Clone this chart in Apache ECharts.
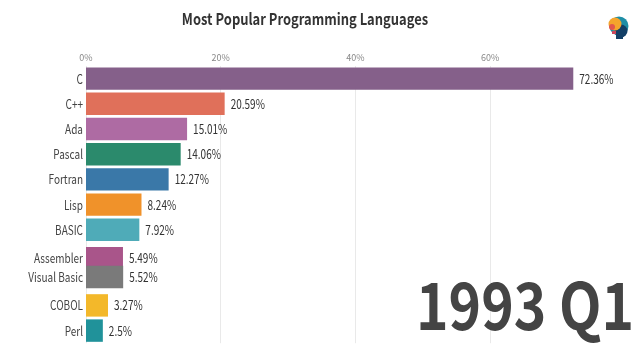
<!DOCTYPE html>
<html>
<head>
<meta charset="utf-8">
<style>html,body{margin:0;padding:0;background:#fff}#c{width:640px;height:360px}</style>
<script src="https://cdn.jsdelivr.net/npm/echarts@6/dist/echarts.min.js"></script>
</head>
<body>
<div id="c"></div>
<script>
const languages = ['C','C++','Ada','Pascal','Fortran','Lisp','BASIC','Assembler','Visual Basic','COBOL','Perl'];
const shares = [72.36,20.59,15.01,14.06,12.27,8.24,7.92,5.49,5.52,3.27,2.5];
const ranks = [1,2,3,4,5,6,7,8.13,8.87,10,11];
const colors = ['#85608a','#e0705a','#ae6ba3','#2b8a6c','#3a78a8','#f0922a','#4fabb8','#a9558a','#7a7a7a','#f3b82a','#20929a'];
const tickValues = [0,20,40,60];
const titleText = 'Most Popular Programming Languages';
const periodText = '1993 Q1';
const FONT = '"Noto Sans CJK SC","Noto Sans",sans-serif';

const chart = echarts.init(document.getElementById('c'), null, {renderer:'canvas'});
chart.setOption({
  animation:false,
  backgroundColor:'#fff',
  grid:{left:86,top:66,width:532,height:277.2},
  xAxis:{type:'value',position:'top',min:0,max:79,interval:20,
    axisLine:{show:false},axisTick:{show:false},
    axisLabel:{color:'#888',fontFamily:FONT,fontSize:9,margin:4,showMaxLabel:false,
      formatter:v=>tickValues.includes(v)?v+'%':''},
    splitLine:{show:true,showMaxLine:false,lineStyle:{color:'#e9e9e9',width:1}}},
  yAxis:{type:'value',inverse:true,min:0.5,max:11.5,show:false,splitLine:{show:false}},
  series:[{
    type:'custom',
    clip:false,
    data:languages.map((n,i)=>[shares[i],ranks[i],n,i]),
    encode:{x:0,y:1},
    renderItem:(params,api)=>{
      const v=api.value(0), r=api.value(1), i=api.value(3);
      const end=api.coord([v,r]), start=api.coord([0,r]);
      const h=api.size([0,1])[1]*0.89;
      return {type:'group',children:[
        {type:'rect',shape:{x:start[0],y:end[1]-h/2,width:end[0]-start[0],height:h},
         style:{fill:colors[i]}},
        {type:'text',x:start[0]-3,y:end[1],scaleX:0.77,
         style:{text:languages[i],align:'right',verticalAlign:'middle',fill:'#444',fontFamily:FONT,fontSize:13}},
        {type:'text',x:end[0]+6,y:end[1],scaleX:0.77,
         style:{text:shares[i]+'%',align:'left',verticalAlign:'middle',fill:'#333',fontFamily:FONT,fontSize:13}}
      ]};
    }
  }],
  graphic:[
    {type:'text',x:305,y:19,scaleX:0.81,
     style:{text:titleText,align:'center',verticalAlign:'middle',fontFamily:FONT,fontSize:16,fontWeight:'bold',fill:'#333'}},
    {type:'text',x:525,y:305,scaleX:0.85,z:5,
     style:{text:periodText,align:'center',verticalAlign:'middle',fontFamily:FONT,fontSize:65,fontWeight:'bold',fill:'#444'}},
    {type:'circle',shape:{cx:619,cy:26,r:9.5},style:{fill:'#1e8ea6'}},
    {type:'circle',shape:{cx:621,cy:31,r:6.5},style:{fill:'#123f66'}},
    {type:'rect',shape:{x:616,y:32,width:7,height:7},style:{fill:'#123f66'}},
    {type:'circle',shape:{cx:615,cy:24,r:6.5},style:{fill:'#f4a52c'}},
    {type:'circle',shape:{cx:612,cy:27,r:3},style:{fill:'#e2574c'}},
    {type:'rect',shape:{x:612,y:31,width:4,height:3},style:{fill:'#c9455a'}}
  ]
});
</script>
</body>
</html>
